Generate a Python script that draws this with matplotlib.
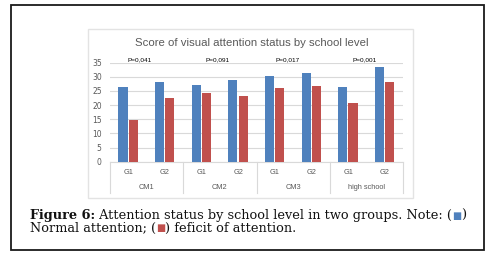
import matplotlib
matplotlib.use("Agg")
import matplotlib.pyplot as plt
import matplotlib.transforms as mtransforms
from matplotlib.patches import Rectangle
import numpy as np

# ---- data ----
levels = ["CM1", "CM2", "CM3", "high school"]
groups = ["G1", "G2"]
normal_attention = [26.5, 28.2, 27.0, 28.9, 30.3, 31.2, 26.4, 33.6]
deficit_attention = [14.6, 22.5, 24.3, 23.2, 26.0, 26.9, 20.7, 28.2]
p_values = ["P=0,041", "P=0,091", "P=0,017", "P=0,001"]
yticks = [0, 5, 10, 15, 20, 25, 30, 35]

W, H = 495, 258
fig = plt.figure(figsize=(W / 100, H / 100), dpi=100)
fig.patch.set_facecolor("white")

# background axes in pixel coords for borders and caption
bg = fig.add_axes([0, 0, 1, 1])
bg.set_xlim(0, W)
bg.set_ylim(H, 0)
bg.axis("off")
bg.add_patch(Rectangle((10.5, 4.5), 473.5, 245.5, fill=False, ec="#1a1a1a", lw=1.3))
bg.add_patch(Rectangle((88, 29), 325, 169, fill=False, ec="#e3e3e3", lw=1.0))

def px2fig(x0, y0, x1, y1):
    return [x0 / W, 1 - y1 / H, (x1 - x0) / W, (y1 - y0) / H]

ax = fig.add_axes(px2fig(110, 62.7, 403, 161.7))
n = len(normal_attention)
x = np.arange(n)
blue = "#4F81BD"
red = "#C0504D"
bw = 0.25
ax.bar(x - 0.145, normal_attention, width=bw, color=blue, zorder=3)
ax.bar(x + 0.135, deficit_attention, width=bw, color=red, zorder=3)
ax.set_xlim(-0.5, n - 0.5)
ax.set_ylim(0, 35)
ax.set_yticks(yticks)
ax.yaxis.grid(True, color="#d9d9d9", lw=0.8, zorder=0)
ax.set_axisbelow(True)
for s in ["top", "right", "left"]:
    ax.spines[s].set_visible(False)
ax.spines["bottom"].set_color("#d9d9d9")
ax.spines["bottom"].set_linewidth(0.8)
ax.tick_params(axis="y", length=0, labelsize=5.5, labelcolor="#595959", pad=6)
ax.tick_params(axis="x", length=0, labelbottom=False)
ax.set_facecolor("none")

trans = mtransforms.blended_transform_factory(ax.transData, ax.transAxes)
axh = 99.0
# group separators
for b in np.arange(-0.5, n, 2):
    ax.plot([b, b], [0, -31 / axh], transform=trans, color="#d9d9d9", lw=0.8, clip_on=False)
# sub-category labels
for i in range(n):
    ax.text(x[i], -10.5 / axh, groups[i % 2], transform=trans, ha="center", va="center",
            fontsize=5.3, color="#595959", family="Liberation Sans")
for g, lab in enumerate(levels):
    ax.text(2 * g + 0.5, -25.5 / axh, lab, transform=trans, ha="center", va="center",
            fontsize=5.3, color="#595959", family="Liberation Sans")

# p-value labels
p_off = [0.31, 0.44, 0.35, 0.45]
for g, p in enumerate(p_values):
    ax.text(2 * g + p_off[g], 36.2, p, ha="center", va="center", fontsize=4.6,
            color="black", family="Liberation Sans", clip_on=False)

# title
fig.text(252 / W, 1 - 43.5 / H, "Score of visual attention status by school level",
         ha="center", va="center", fontsize=8.2, color="#595959", family="Liberation Sans")

# caption with chained text
serif = "DejaVu Serif"
cs = 9.3
t = bg.text(30, 215.5, "Figure 6:", fontsize=cs, fontweight="bold", family=serif,
            va="center", ha="left", color="#111111")
def chain(prev, s, color="#111111", family=serif, weight="normal", size=cs):
    return bg.annotate(s, xy=(1, 0.5), xycoords=prev, va="center", ha="left",
                       fontsize=size, family=family, fontweight=weight, color=color)
t = chain(t, " Attention status by school level in two groups. Note: (")
t = chain(t, "\u25A0", color=blue, family="DejaVu Sans", size=cs * 0.75)
t = chain(t, ")")
t = bg.text(30, 228.5, "Normal attention; (", fontsize=cs, family=serif,
            va="center", ha="left", color="#111111")
t = chain(t, "\u25A0", color=red, family="DejaVu Sans", size=cs * 0.75)
t = chain(t, ") feficit of attention.")

fig.savefig("out.png", dpi=100)
